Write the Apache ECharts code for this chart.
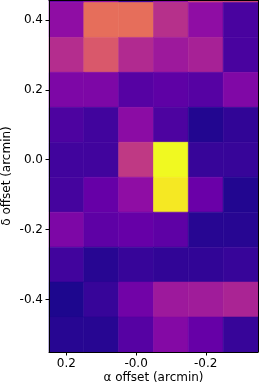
<!DOCTYPE html>
<html>
<head>
<meta charset="utf-8">
<script src="https://cdn.jsdelivr.net/npm/echarts@6/dist/echarts.min.js"></script>
<style>
html,body{margin:0;padding:0;background:#fff;}
#c{width:260px;height:387px;}
</style>
</head>
<body>
<div id="c"></div>
<script>
// alpha offset (arcmin) of each column centre
const alphaOffsets = [0.2, 0.1, 0.0, -0.1, -0.2, -0.3];
// delta offset (arcmin) of each row centre
const deltaOffsets = [0.5, 0.4, 0.3, 0.2, 0.1, 0.0, -0.1, -0.2, -0.3, -0.4, -0.5];
// normalised intensity per row (rows follow deltaOffsets, columns follow alphaOffsets)
const rowP05 = [0.20, 0.30, 0.10, 0.30, 0.50, 0.50];
const rowP04 = [0.30, 0.63, 0.63, 0.42, 0.30, 0.12];
const rowP03 = [0.41, 0.56, 0.40, 0.34, 0.37, 0.12];
const rowP02 = [0.25, 0.25, 0.15, 0.17, 0.15, 0.26];
const rowP01 = [0.13, 0.10, 0.29, 0.13, 0.04, 0.07];
const rowZ00 = [0.10, 0.10, 0.45, 1.00, 0.08, 0.08];
const rowM01 = [0.11, 0.19, 0.30, 0.96, 0.20, 0.04];
const rowM02 = [0.25, 0.17, 0.19, 0.17, 0.05, 0.05];
const rowM03 = [0.10, 0.05, 0.08, 0.07, 0.07, 0.08];
const rowM04 = [0.03, 0.08, 0.22, 0.34, 0.35, 0.38];
const rowM05 = [0.05, 0.05, 0.15, 0.27, 0.19, 0.08];
const intensityRows = [rowP05, rowP04, rowP03, rowP02, rowP01, rowZ00, rowM01, rowM02, rowM03, rowM04, rowM05];
// tick labels
const xTickValues = [0.2, 0.0, -0.2];
const xTickLabels = ['0.2', '-0.0', '-0.2'];
const yTickValues = [0.4, 0.2, 0.0, -0.2, -0.4];
const yTickLabels = ['0.4', '0.2', '0.0', '-0.2', '-0.4'];
const cellStep = 0.1;

const plasma = ['#0d0887','#41049d','#6a00a8','#8f0da4','#b12a90','#cc4778','#e16462','#f2844b','#fca636','#fcce25','#f0f921'];

const data = [];
deltaOffsets.forEach((d, i) => {
  alphaOffsets.forEach((a, j) => {
    data.push([a, d, intensityRows[i][j]]);
  });
});

function labelFor(values, labels) {
  return function (v) {
    for (let k = 0; k < values.length; k++) {
      if (Math.abs(values[k] - v) < 1e-9) return labels[k];
    }
    return '';
  };
}

const chart = echarts.init(document.getElementById('c'), null, {renderer: 'canvas'});
const font = 'DejaVu Sans';
const fs = 12;
const axisCommon = {
  z: 10,
  nameMoveOverlap: false,
  axisLine: {show: true, onZero: false, lineStyle: {color: '#000', width: 1}},
  splitLine: {show: false},
  nameTextStyle: {color: '#000', fontFamily: font, fontSize: fs}
};
chart.setOption({
  animation: false,
  grid: {left: 49, right: 2, top: 0, bottom: 35, containLabel: false, outerBoundsMode: 'none'},
  visualMap: {
    show: false, min: 0, max: 1, dimension: 2, seriesIndex: 0,
    inRange: {color: plasma}
  },
  xAxis: [
    Object.assign({}, axisCommon, {
      type: 'value', inverse: true, min: -0.35, max: 0.25, position: 'bottom',
      name: 'α offset (arcmin)', nameLocation: 'middle', nameGap: 20,
      axisTick: {show: true, inside: false, length: 3.5, lineStyle: {color: '#000'}, customValues: xTickValues},
      axisLabel: {show: true, margin: 6, color: '#000', fontFamily: font, fontSize: fs,
        customValues: xTickValues, formatter: labelFor(xTickValues, xTickLabels)}
    }),
    Object.assign({}, axisCommon, {
      type: 'value', inverse: true, min: -0.35, max: 0.25, position: 'top',
      axisTick: {show: false}, axisLabel: {show: false}
    })
  ],
  yAxis: [
    Object.assign({}, axisCommon, {
      type: 'value', min: -0.55, max: 0.457, position: 'left',
      name: 'δ offset (arcmin)', nameLocation: 'middle', nameGap: 36,
      axisTick: {show: true, inside: false, length: 3.5, lineStyle: {color: '#000'}, customValues: yTickValues},
      axisLabel: {show: true, margin: 6, color: '#000', fontFamily: font, fontSize: fs,
        customValues: yTickValues, formatter: labelFor(yTickValues, yTickLabels)}
    }),
    Object.assign({}, axisCommon, {
      type: 'value', min: -0.55, max: 0.457, position: 'right',
      axisTick: {show: false}, axisLabel: {show: false}
    })
  ],
  series: [{
    type: 'custom',
    xAxisIndex: 0, yAxisIndex: 0,
    data: data,
    encode: {x: 0, y: 1},
    renderItem: function (params, api) {
      const a = api.value(0), d = api.value(1);
      const p1 = api.coord([a + cellStep / 2, d + cellStep / 2]);
      const p2 = api.coord([a - cellStep / 2, d - cellStep / 2]);
      const x = Math.min(p1[0], p2[0]), y = Math.min(p1[1], p2[1]);
      const rect = echarts.graphic.clipRectByRect(
        {x: x, y: y, width: Math.abs(p2[0] - p1[0]), height: Math.abs(p2[1] - p1[1])},
        {x: params.coordSys.x, y: params.coordSys.y, width: params.coordSys.width, height: params.coordSys.height}
      );
      if (!rect) return null;
      const c = api.visual('color');
      return {type: 'rect', shape: rect, style: {fill: c, stroke: c, lineWidth: 0.6}};
    }
  }]
});
</script>
</body>
</html>
